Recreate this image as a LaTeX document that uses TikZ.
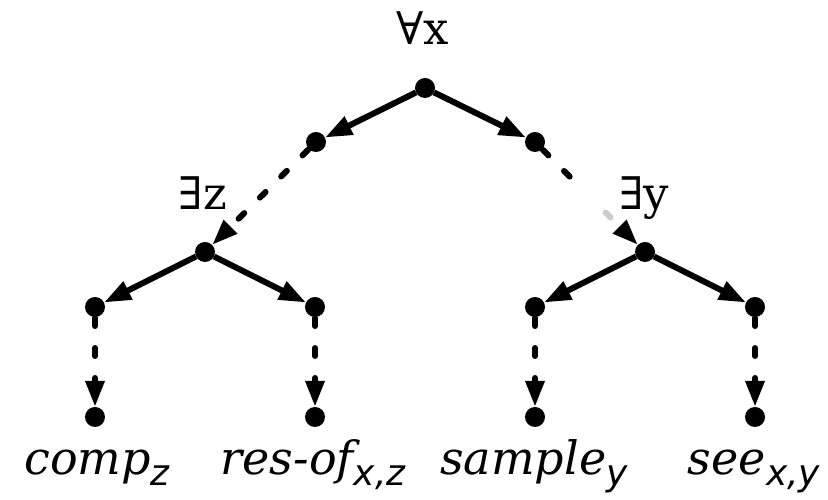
\documentclass[tikz,border=0pt]{standalone}
\usepackage{fontspec}
\setmainfont{DejaVu Serif}
\newfontfamily\subfont{DejaVu Sans}
\usetikzlibrary{arrows.meta}
\newcommand\sbx[1]{\raisebox{-11pt}{\fontsize{36}{36}\subfont\itshape #1}}
\tikzset{
  dot/.style={circle,fill=black,draw=none,minimum size=20pt,inner sep=0pt,outer sep=0pt},
  solidarr/.style={line width=6pt,-{Triangle[length=27pt,width=19pt]}},
  dasharr/.style={line width=6pt,line cap=round,dash pattern=on 8pt off 22pt,dash phase=29pt,-{Triangle[length=26pt,width=18pt,line cap=butt]}},
  qlabel/.style={anchor=base,inner sep=0pt,font=\fontsize{45}{45}\selectfont},
  leaflabel/.style={anchor=base,inner sep=0pt,font=\fontsize{46}{46}\selectfont\itshape}
}
\begin{document}
\begin{tikzpicture}[x=1pt,y=1pt]
\useasboundingbox (0,0) rectangle (828,500);
\node[dot] (root) at (425,412) {};
\node[dot] (ml) at (316,358) {};
\node[dot] (mr) at (535,358) {};
\node[dot] (ez) at (205,248) {};
\node[dot] (ey) at (645,248) {};
\node[dot] (l1) at (95,193) {};
\node[dot] (l2) at (315,193) {};
\node[dot] (l3) at (535,193) {};
\node[dot] (l4) at (755,193) {};
\node[dot] (b1) at (95,83) {};
\node[dot] (b2) at (315,83) {};
\node[dot] (b3) at (535,83) {};
\node[dot] (b4) at (755,83) {};

\node[qlabel] (qx) at (423,455) {∀x};
\node[qlabel] (qz) at (203,290) {∃z};
\node[qlabel] (qy) at (644,290) {∃y};

\node[leaflabel] (t1) at (97,25) {comp\sbx{z}};
\node[leaflabel] (t2) at (313,25) {res-of\sbx{x,z}};
\node[leaflabel] (t3) at (534,25) {sample\sbx{y}};
\node[leaflabel] (t4) at (754,25) {see\sbx{x,y}};

\draw[solidarr] (root) -- (ml);
\draw[solidarr] (root) -- (mr);
\draw[dasharr] (ml) -- (ez);
\draw[dasharr,dash pattern=on 8pt off 22pt on 8pt off 22pt on 8pt off 200pt] (mr) -- (ey);
\path (mr) -- (ey) coordinate[pos=0.662] (g1) coordinate[pos=0.713] (g2);
\draw[line width=6pt,line cap=round,black!20] (g1) -- (g2);
\draw[solidarr] (ez) -- (l1);
\draw[solidarr] (ez) -- (l2);
\draw[solidarr] (ey) -- (l3);
\draw[solidarr] (ey) -- (l4);
\draw[dasharr] (l1) -- (b1);
\draw[dasharr] (l2) -- (b2);
\draw[dasharr] (l3) -- (b3);
\draw[dasharr] (l4) -- (b4);
\end{tikzpicture}
\end{document}
